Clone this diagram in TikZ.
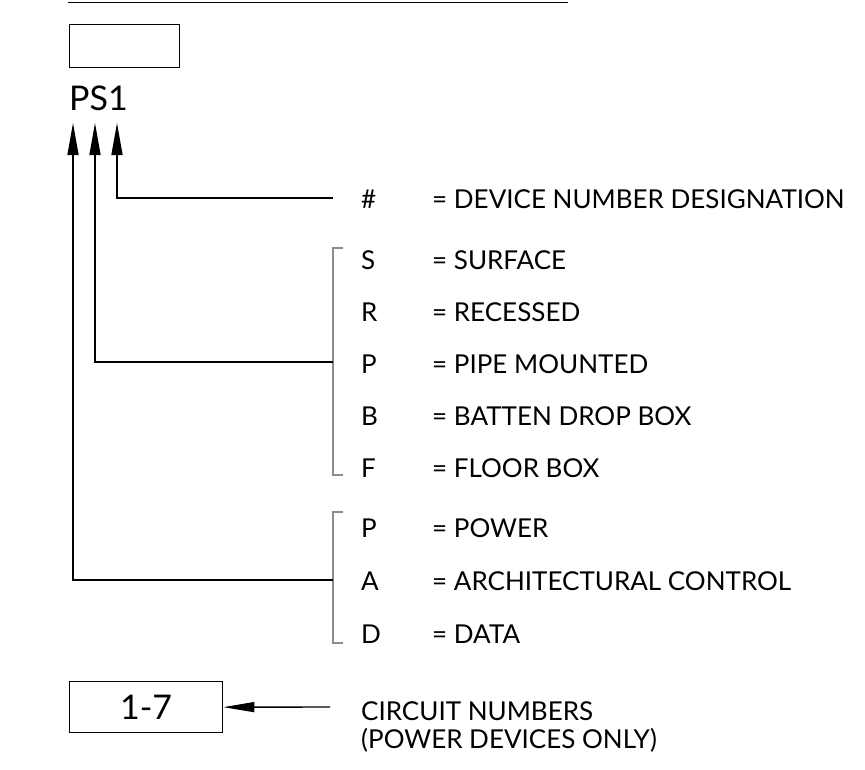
\documentclass[tikz,border=0pt]{standalone}
\usepackage{fontspec}
\setmainfont{Lato}
\usetikzlibrary{arrows.meta}
\begin{document}
\begin{tikzpicture}[x=1pt,y=-1pt,
  ln/.style={line width=1.4pt},
  brk/.style={line width=1.2pt,draw=black!45},
  lbl/.style={anchor=base west,inner sep=0pt,font=\fontsize{26}{30}\selectfont},
  big/.style={inner sep=0pt,font=\fontsize{34}{38}\selectfont},
  tip/.style={-{Triangle[length=32pt,width=11pt]}},
]
\useasboundingbox (0,0) rectangle (865,769);
% top rule
\draw[line width=1.3pt] (68,2.3) coordinate (t1) -- (568,2.3) coordinate (t2);
% empty box
\node[draw,line width=1.3pt,minimum width=110pt,minimum height=43pt,inner sep=0pt,anchor=north west] (box) at (69,24) {};
% PS1
\node[big,anchor=base west] (ps) at (69,110) {PS1};
\coordinate (a1) at (73,123);
\coordinate (a2) at (95,123);
\coordinate (a3) at (117,123);
% device number
\node[lbl] (hash) at (361,208) {\#};
\node[lbl] (dev) at (432,208) {= DEVICE NUMBER DESIGNATION};
\coordinate (c3) at (333,198);
\draw[ln,tip] (c3) -| (a3);
% mounting
\node[lbl] (s) at (361,269) {S};
\node[lbl] (s2) at (432,269) {= SURFACE};
\node[lbl] (r) at (361,321) {R};
\node[lbl] (r2) at (432,321) {= RECESSED};
\node[lbl] (p) at (361,373) {P};
\node[lbl] (p2) at (432,373) {= PIPE MOUNTED};
\node[lbl] (b) at (361,425) {B};
\node[lbl] (b2) at (432,425) {= BATTEN DROP BOX};
\node[lbl] (f) at (361,477) {F};
\node[lbl] (f2) at (432,477) {= FLOOR BOX};
\draw[brk] (343,248) -- (333,248) -- (333,475) -- (343,475);
\coordinate (c2) at (333,362);
\draw[ln,tip] (c2) -| (a2);
% type
\node[lbl] (tp) at (361,537) {P};
\node[lbl] (tp2) at (432,537) {= POWER};
\node[lbl] (ta) at (361,590) {A};
\node[lbl] (ta2) at (432,590) {= ARCHITECTURAL CONTROL};
\node[lbl] (td) at (361,643) {D};
\node[lbl] (td2) at (432,643) {= DATA};
\draw[brk] (343,512) -- (333,512) -- (333,643) -- (343,643);
\coordinate (c1) at (333,580);
\draw[ln,tip] (c1) -| (a1);
% circuit box
\node[draw,line width=1.3pt,minimum width=153pt,minimum height=51pt,inner sep=0pt,anchor=north west] (cb) at (69,681) {};
\node[big] (cbt) at (cb.center) {1-7};
\node[lbl] (circ) at (361,720) {CIRCUIT NUMBERS};
\node[lbl] (circ2) at (361,748) {(POWER DEVICES ONLY)};
\coordinate (c0) at (330,707);
\draw[ln,-{Triangle[length=31pt,width=10pt]}] (c0) -- (cb.east);
\end{tikzpicture}
\end{document}
